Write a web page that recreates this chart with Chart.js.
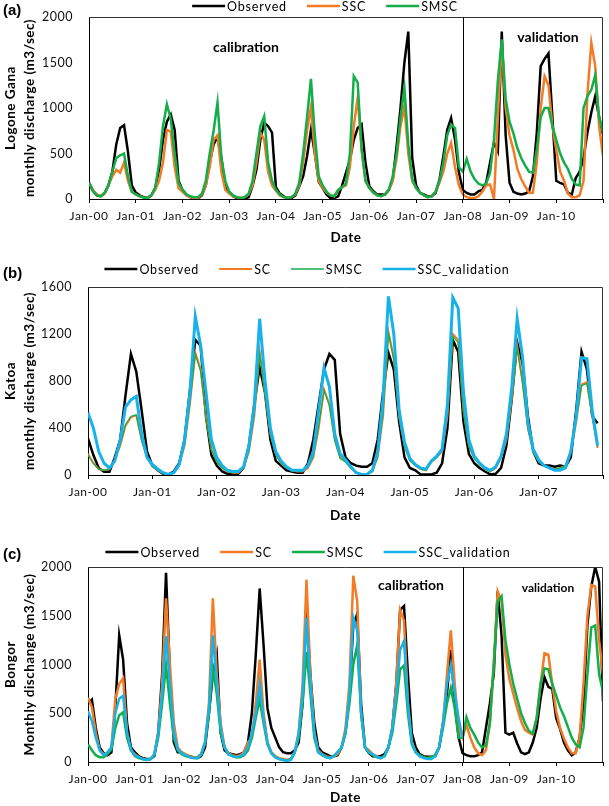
<!DOCTYPE html>
<html>
<head>
<meta charset="utf-8">
<script src="https://cdn.jsdelivr.net/npm/chart.js@4.4.1/dist/chart.umd.min.js"></script>
<style>
  html, body { margin: 0; padding: 0; background: #fff; }
  #wrap { position: relative; width: 609px; height: 806px; }
  canvas { position: absolute; left: 0; }
</style>
</head>
<body>
<div id="wrap">
  <canvas id="chart-a" width="609" height="250" style="top:0px"></canvas>
  <canvas id="chart-b" width="609" height="278" style="top:250px"></canvas>
  <canvas id="chart-c" width="609" height="278" style="top:528px"></canvas>
</div>
<script>
// ========== データ (月次流量 m3/sec, Jan-00 から) ==========

const yearTicksLong = ['Jan-00', 'Jan-01', 'Jan-02', 'Jan-03', 'Jan-04', 'Jan-05', 'Jan-06', 'Jan-07', 'Jan-08', 'Jan-09', 'Jan-10'];
const yearTicksShort = ['Jan-00', 'Jan-01', 'Jan-02', 'Jan-03', 'Jan-04', 'Jan-05', 'Jan-06', 'Jan-07'];

// (a) Logone Gana
const ganaObserved = [
  180, 90, 40, 30, 60, 150, 300, 600, 780, 810, 520, 150,
  70, 40, 20, 10, 40, 120, 320, 650, 850, 930, 760, 200,
  100, 50, 20, 5, 5, 40, 150, 400, 600, 680, 450, 130,
  80, 30, 10, 5, 5, 20, 140, 320, 650, 840, 800, 730,
  130, 60, 30, 10, 10, 40, 140, 250, 470, 760, 500, 190,
  120, 50, 10, 10, 30, 150, 290, 430, 650, 780, 820, 400,
  140, 85, 50, 50, 50, 100, 210, 580, 1000, 1500, 1840, 450,
  150, 66, 50, 30, 30, 66, 210, 470, 760, 890, 650, 290,
  100, 66, 50, 50, 85, 100, 180, 400, 620, 525, 1840, 700,
  180, 80, 60, 50, 60, 80, 250, 730, 1460, 1540, 1600, 900,
  200, 176, 160, 66, 50, 230, 300, 450, 730, 950, 1130, 900,
  710
];
const ganaSSC = [
  180, 100, 50, 30, 60, 150, 250, 320, 290, 400, 200, 80,
  50, 30, 15, 10, 40, 100, 200, 400, 760, 740, 350, 120,
  80, 40, 20, 10, 10, 50, 150, 350, 650, 700, 300, 100,
  60, 30, 20, 10, 20, 50, 150, 400, 730, 650, 300, 150,
  90, 40, 20, 10, 20, 50, 150, 400, 750, 1010, 500, 200,
  120, 70, 40, 30, 100, 130, 150, 350, 800, 1110, 550, 200,
  120, 70, 40, 30, 50, 100, 200, 450, 800, 1020, 500, 200,
  120, 70, 40, 20, 30, 80, 180, 300, 500, 617, 350, 150,
  50, 20, 10, 10, 30, 80, 150, 160, 0, 900, 1717, 1000,
  700, 540, 330, 220, 140, 70, 70, 400, 1000, 1350, 1250, 800,
  540, 300, 200, 60, 20, 20, 40, 200, 1150, 1717, 1460, 800,
  470
];
const ganaSMSC = [
  180, 90, 40, 30, 70, 150, 300, 450, 480, 500, 250, 80,
  50, 30, 15, 10, 40, 120, 400, 800, 1040, 880, 500, 180,
  100, 50, 30, 20, 20, 60, 200, 500, 750, 1060, 450, 200,
  80, 40, 20, 10, 20, 60, 200, 500, 800, 910, 400, 200,
  100, 50, 20, 10, 20, 60, 180, 500, 900, 1320, 700, 250,
  150, 80, 40, 30, 100, 130, 170, 500, 1350, 1280, 550, 200,
  120, 70, 40, 30, 50, 100, 250, 500, 900, 1222, 600, 220,
  120, 70, 40, 20, 30, 80, 200, 400, 700, 820, 780, 350,
  300, 440, 300, 220, 170, 150, 170, 290, 650, 1300, 1754, 1100,
  850, 720, 560, 450, 370, 300, 290, 550, 900, 1000, 1000, 800,
  650, 500, 400, 330, 220, 160, 150, 1000, 1130, 1200, 1360, 900,
  730
];

// (b) Katoa
const katoaObserved = [
  311, 170, 60, 28, 28, 150, 300, 680, 1030, 880, 550, 200,
  80, 40, 10, 5, 30, 100, 300, 720, 1150, 1100, 500, 170,
  80, 30, 10, 10, 10, 60, 250, 600, 920, 700, 300, 120,
  80, 40, 30, 20, 20, 100, 300, 600, 900, 1030, 980, 350,
  150, 100, 80, 70, 70, 100, 300, 700, 1040, 900, 450, 150,
  60, 40, 5, 5, 5, 20, 100, 400, 1150, 1050, 450, 180,
  100, 60, 30, 5, 10, 60, 250, 650, 1130, 950, 500, 200,
  100, 80, 80, 70, 80, 70, 150, 550, 1050, 900, 500, 440
];
const katoaSC = [
  180, 100, 50, 40, 50, 130, 250, 420, 490, 510, 300, 150,
  80, 40, 15, 5, 20, 80, 250, 600, 1040, 900, 500, 220,
  120, 60, 30, 20, 20, 60, 200, 500, 1050, 700, 350, 180,
  100, 60, 40, 30, 30, 60, 150, 400, 730, 600, 300, 150,
  120, 60, 20, 5, 5, 30, 150, 500, 1220, 1000, 500, 250,
  130, 80, 50, 40, 110, 150, 200, 500, 1200, 1150, 550, 250,
  150, 90, 50, 30, 60, 150, 300, 650, 1100, 800, 400, 200,
  120, 80, 60, 50, 60, 80, 200, 450, 770, 790, 500, 230
];
const katoaSMSC = [
  170, 100, 50, 40, 50, 130, 260, 430, 500, 510, 290, 140,
  70, 40, 15, 5, 20, 80, 260, 620, 1030, 880, 480, 210,
  110, 60, 30, 20, 20, 60, 210, 520, 1030, 680, 340, 170,
  100, 60, 40, 30, 30, 70, 160, 420, 720, 590, 290, 140,
  110, 60, 20, 5, 5, 30, 160, 520, 1200, 980, 480, 240,
  120, 80, 50, 40, 110, 150, 210, 520, 1180, 1130, 530, 240,
  140, 90, 50, 30, 60, 150, 310, 660, 1080, 780, 390, 190,
  110, 80, 60, 50, 60, 80, 210, 460, 760, 780, 490, 240
];
const katoaSSCval = [
  530, 400, 200, 100, 60, 120, 300, 580, 640, 670, 350, 150,
  90, 50, 20, 5, 20, 90, 300, 700, 1350, 1100, 700, 300,
  150, 80, 40, 30, 30, 70, 250, 600, 1330, 800, 400, 200,
  120, 70, 40, 40, 40, 80, 200, 550, 910, 750, 350, 180,
  130, 70, 20, 5, 5, 40, 200, 650, 1520, 1200, 550, 280,
  140, 90, 60, 50, 120, 160, 220, 600, 1510, 1420, 700, 300,
  160, 100, 60, 40, 70, 160, 350, 750, 1330, 1000, 450, 220,
  130, 80, 60, 40, 40, 60, 200, 500, 1000, 990, 550, 250
];

// (c) Bongor
const bongorObserved = [
  600, 640, 350, 150, 90, 70, 100, 550, 1300, 1050, 400, 150,
  100, 60, 40, 30, 30, 60, 300, 900, 1940, 900, 200, 100,
  100, 70, 60, 50, 40, 60, 150, 500, 900, 1100, 300, 120,
  90, 80, 70, 80, 100, 200, 500, 1100, 1780, 1200, 550, 350,
  250, 150, 100, 90, 90, 120, 200, 600, 1580, 900, 400, 150,
  100, 80, 60, 60, 70, 150, 300, 700, 1400, 1520, 600, 150,
  90, 60, 60, 60, 80, 150, 350, 800, 1560, 1600, 900, 300,
  150, 80, 60, 55, 55, 60, 150, 400, 700, 1150, 600, 250,
  90, 70, 60, 60, 70, 100, 350, 600, 900, 1750, 1300, 300,
  280, 300, 190, 100, 80, 100, 200, 350, 650, 870, 770, 750,
  450, 340, 200, 120, 70, 100, 250, 600, 1400, 1800, 2000, 1850,
  620
];
const bongorSC = [
  660, 560, 300, 120, 80, 90, 150, 650, 800, 860, 300, 120,
  80, 50, 30, 20, 30, 80, 300, 800, 1680, 1000, 400, 150,
  100, 80, 60, 50, 50, 80, 200, 600, 1680, 900, 400, 150,
  90, 70, 60, 70, 100, 200, 250, 600, 1050, 500, 200, 100,
  60, 40, 30, 20, 30, 100, 300, 800, 1870, 900, 300, 120,
  80, 60, 50, 60, 80, 150, 350, 800, 1910, 1650, 500, 150,
  120, 80, 60, 40, 60, 150, 350, 800, 1560, 1450, 600, 200,
  100, 60, 50, 40, 50, 70, 150, 400, 900, 1350, 800, 350,
  250, 380, 250, 150, 90, 70, 120, 400, 1000, 1750, 1650, 1100,
  850, 700, 550, 420, 330, 300, 280, 450, 800, 1115, 1100, 800,
  520, 350, 240, 150, 90, 90, 250, 800, 1500, 1815, 1800, 1250,
  900
];
const bongorSMSC = [
  180, 120, 70, 50, 50, 80, 130, 350, 480, 510, 250, 120,
  60, 40, 30, 20, 30, 70, 250, 600, 990, 600, 250, 120,
  80, 60, 50, 40, 40, 70, 200, 500, 960, 700, 300, 150,
  80, 60, 50, 50, 70, 120, 250, 450, 640, 400, 180, 90,
  50, 30, 20, 15, 30, 100, 250, 600, 1130, 700, 250, 100,
  70, 50, 40, 60, 100, 150, 300, 600, 1000, 1200, 500, 150,
  100, 70, 50, 40, 60, 150, 300, 600, 950, 990, 500, 180,
  100, 70, 50, 40, 50, 70, 150, 350, 600, 760, 550, 250,
  250, 460, 350, 280, 200, 150, 170, 400, 1000, 1650, 1700, 1250,
  1000, 800, 650, 500, 400, 320, 290, 450, 800, 960, 950, 800,
  680, 560, 470, 360, 250, 180, 150, 350, 900, 1380, 1400, 900,
  720
];
const bongorSSCval = [
  520, 420, 250, 120, 70, 100, 150, 500, 650, 680, 300, 130,
  70, 50, 30, 20, 30, 80, 280, 700, 1290, 800, 300, 130,
  90, 70, 50, 40, 40, 80, 200, 550, 1300, 800, 350, 150,
  80, 60, 50, 60, 80, 150, 300, 500, 800, 450, 200, 90,
  50, 30, 20, 10, 20, 100, 300, 700, 1480, 800, 300, 100,
  80, 50, 40, 60, 100, 150, 300, 700, 1480, 1350, 500, 150,
  100, 80, 50, 40, 60, 150, 350, 700, 1150, 1240, 600, 200,
  100, 60, 40, 30, 30, 60, 150, 400, 800, 1000, 700, 450,
  250
];

// ---- 共通設定 ----

const COLORS = { obs: '#000000', sc: '#F47B26', smsc: '#13AD4A', val: '#17B2EA' };
const FONT = 'Lato, "Liberation Sans", sans-serif';

function toPoints(values) {
  return values.map((y, i) => ({ x: i, y }));
}

function series(label, values, color, width) {
  return {
    label,
    data: toPoints(values),
    borderColor: color,
    backgroundColor: color,
    borderWidth: width,
    pointRadius: 0,
    tension: 0,
    fill: false,
  };
}

// 軸の文字を少し字間を空けて描く
const letterSpacing = {
  id: 'letterSpacing',
  beforeDraw(chart) {
    if ('letterSpacing' in chart.ctx) chart.ctx.letterSpacing = '0.5px';
  }
};

// 枠・区切り線・注記・凡例
const panelDecor = {
  id: 'panelDecor',
  afterDraw(chart, args, opts) {
    const { ctx, chartArea: area, scales } = chart;
    ctx.save();
    if ('letterSpacing' in ctx) ctx.letterSpacing = '0px';
    ctx.strokeStyle = '#333';
    ctx.lineWidth = 1;
    ctx.beginPath();
    ctx.moveTo(area.left, area.top + 0.5);
    ctx.lineTo(area.right - 0.5, area.top + 0.5);
    ctx.lineTo(area.right - 0.5, area.bottom);
    ctx.stroke();

    if (opts.divider != null) {
      const x = Math.round(scales.x.getPixelForValue(opts.divider)) + 0.5;
      ctx.strokeStyle = '#000';
      ctx.beginPath();
      ctx.moveTo(x, area.top);
      ctx.lineTo(x, area.bottom);
      ctx.stroke();
    }

    ctx.fillStyle = '#000';
    ctx.textBaseline = 'middle';
    ctx.textAlign = 'center';
    (opts.notes || []).forEach(n => {
      ctx.font = n.font;
      ctx.fillText(n.text, n.x, n.y);
    });

    ctx.textAlign = 'left';
    ctx.font = 'bold 15px "Liberation Sans", Arial, sans-serif';
    ctx.fillText(opts.letter, 3, opts.letterY);

    // 凡例
    const datasets = chart.data.datasets;
    ctx.font = '12.5px ' + FONT;
    if ('letterSpacing' in ctx) ctx.letterSpacing = '0.8px';
    const lineLen = 33, gap = 2, itemGap = 20;
    const widths = datasets.map(ds => lineLen + gap + ctx.measureText(ds.label).width);
    const total = widths.reduce((a, b) => a + b, 0) + itemGap * (datasets.length - 1);
    let x = opts.legendX - total / 2;
    const y = opts.legendY;
    datasets.forEach((ds, i) => {
      ctx.strokeStyle = ds.borderColor;
      ctx.lineWidth = Math.max(Math.min(ds.borderWidth, 2.5), 1.5);
      ctx.beginPath();
      ctx.moveTo(x, y);
      ctx.lineTo(x + lineLen, y);
      ctx.stroke();
      ctx.fillStyle = '#000';
      ctx.fillText(ds.label, x + lineLen + gap, y + 0.5);
      x += widths[i] + itemGap;
    });
    ctx.restore();
  }
};

function buildChart(id, cfg) {
  // 後のシリーズを上に描く
  cfg.datasets.forEach((ds, i) => { ds.order = cfg.datasets.length - i; });
  return new Chart(document.getElementById(id), {
    type: 'line',
    data: { datasets: cfg.datasets },
    plugins: [letterSpacing, panelDecor],
    options: {
      responsive: false,
      animation: false,
      devicePixelRatio: 1,
      layout: { padding: { top: cfg.top, right: cfg.right, left: 0, bottom: 0 } },
      plugins: {
        legend: { display: false },
        tooltip: { enabled: false },
        panelDecor: cfg.decor,
      },
      scales: {
        x: {
          type: 'linear',
          min: 0,
          max: cfg.xMax,
          afterFit: s => { s.height = cfg.xHeight; },
          ticks: {
            stepSize: 12,
            autoSkip: false,
            maxRotation: 0,
            padding: 6,
            color: '#111',
            font: { family: FONT, size: 12 },
            callback: v => cfg.yearTicks[v / 12] || '',
          },
          grid: { display: true, drawOnChartArea: false, drawTicks: true, tickLength: 4, color: '#000' },
          border: { display: true, color: '#000', width: 1 },
          title: {
            display: true,
            text: 'Date',
            color: '#000',
            font: { family: FONT, size: 13.5, weight: 'bold' },
            padding: { top: 0, bottom: cfg.dateBottom },
          },
        },
        y: {
          min: 0,
          max: cfg.yMax,
          afterFit: s => { s.width = cfg.yWidth; },
          ticks: {
            stepSize: cfg.yStep,
            padding: 8,
            color: '#111',
            font: { family: FONT, size: 12.5 },
            callback: v => String(v),
          },
          grid: { display: false },
          border: { display: true, color: '#000', width: 1 },
          title: {
            display: true,
            text: cfg.yTitle,
            color: '#000',
            font: { family: FONT, size: 13.5, weight: 'bold', lineHeight: 1.4 },
            padding: { top: 1, bottom: 0 },
          },
        },
      },
    },
  });
}

// (a)
buildChart('chart-a', {
  datasets: [
    series('Observed', ganaObserved, COLORS.obs, 2.5),
    series('SSC', ganaSSC, COLORS.sc, 2.5),
    series('SMSC', ganaSMSC, COLORS.smsc, 2.5),
  ],
  top: 17, right: 5, xHeight: 51, yWidth: 89, dateBottom: 4,
  xMax: 132, yMax: 2000, yStep: 500, yearTicks: yearTicksLong,
  yTitle: ['Logone Gana', 'monthly discharge (m3/sec)'],
  decor: {
    letter: '(a)', letterY: 11, legendX: 325, legendY: 6, divider: 96,
    notes: [
      { text: 'calibration', x: 246, y: 47, font: 'bold 14px ' + FONT },
      { text: 'validation', x: 548, y: 37, font: 'bold 14px ' + FONT },
    ],
  },
});

// (b)
buildChart('chart-b', {
  datasets: [
    series('Observed', katoaObserved, COLORS.obs, 2.5),
    series('SC', katoaSC, COLORS.sc, 2),
    series('SMSC', katoaSMSC, COLORS.smsc, 1.2),
    series('SSC_validation', katoaSSCval, COLORS.val, 3),
  ],
  top: 37, right: 4, xHeight: 53, yWidth: 88, dateBottom: 4,
  xMax: 96, yMax: 1600, yStep: 400, yearTicks: yearTicksShort,
  yTitle: ['Katoa', 'monthly discharge (m3/sec)'],
  decor: { letter: '(b)', letterY: 24, legendX: 307, legendY: 19, notes: [] },
});

// (c)
buildChart('chart-c', {
  datasets: [
    series('Observed', bongorObserved, COLORS.obs, 2.5),
    series('SC', bongorSC, COLORS.sc, 2.5),
    series('SMSC', bongorSMSC, COLORS.smsc, 2.5),
    series('SSC_validation', bongorSSCval, COLORS.val, 2.5),
  ],
  top: 39, right: 2, xHeight: 44, yWidth: 88, dateBottom: 0,
  xMax: 132, yMax: 2000, yStep: 500, yearTicks: yearTicksLong,
  yTitle: ['Bongor', 'Monthly dischange (m3/sec)'],
  decor: {
    letter: '(c)', letterY: 27, legendX: 308, legendY: 24, divider: 96,
    notes: [
      { text: 'calibration', x: 411, y: 57, font: 'bold 14px ' + FONT },
      { text: 'validation', x: 548, y: 60, font: 'bold 12px ' + FONT },
    ],
  },
});
</script>
</body>
</html>
